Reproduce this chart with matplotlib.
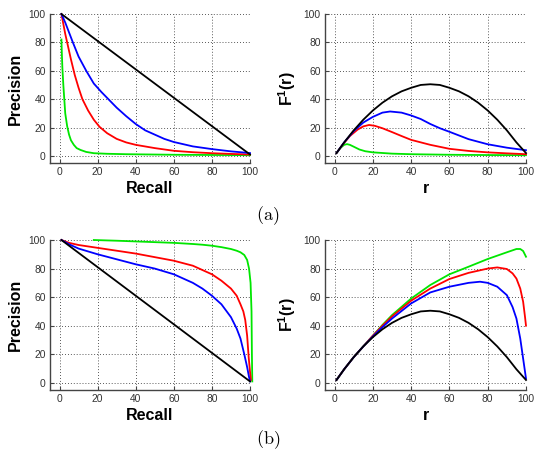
import matplotlib
matplotlib.use("Agg")
import matplotlib.pyplot as plt

# ---------------- data ----------------
# (a) top-left: precision vs recall
a_pr_black_R = [1, 100]
a_pr_black_P = [100, 1]
a_pr_blue_R = [1, 3, 5, 7, 10, 14, 18, 22, 26, 30, 35, 40, 45, 50, 55, 60, 70, 80, 90, 100]
a_pr_blue_P = [100, 94, 87, 80, 70, 60, 51, 45, 39.5, 34, 28, 22.5, 18, 15, 12, 9.8, 6.7, 4.8, 3.2, 2]
a_pr_red_R = [1, 2, 3, 4, 6, 8, 10, 12, 15, 18, 21, 25, 30, 35, 40, 50, 60, 70, 80, 90, 100]
a_pr_red_P = [100, 93, 86, 80, 68, 57, 48, 40, 32, 25.5, 20.5, 16, 12, 9.5, 7.8, 5.5, 3.6, 2.6, 1.9, 1.4, 1]
a_pr_green_R = [1, 1.2, 1.5, 2, 2.5, 3, 4, 5, 6, 7.5, 9, 11, 14, 18, 25, 35, 60, 100]
a_pr_green_P = [82, 73, 62, 50, 40, 30, 21, 15, 11, 7.8, 5.5, 4.2, 2.8, 1.9, 1.5, 1.2, 0.8, 0.5]

# (a) top-right: F1 vs r
a_f_black_r = [1, 5, 10, 15, 20, 25, 30, 35, 40, 45, 50, 55, 60, 65, 70, 75, 80, 85, 90, 95, 100]
a_f_black_F = [2, 9.5, 18, 25.5, 32, 37.5, 42, 45.5, 48, 50, 50.5, 50, 48, 45.5, 42, 37.5, 32, 25.5, 18, 9.5, 2]
a_f_blue_r = [1, 5, 10, 15, 20, 25, 29, 35, 40, 45, 50, 55, 60, 70, 80, 90, 100]
a_f_blue_F = [2, 9.5, 17.5, 23.5, 27.5, 30.5, 31.3, 30.5, 28.5, 26, 22.5, 19.5, 17, 11.8, 8.2, 5.8, 4]
a_f_red_r = [1, 4, 8, 12, 15, 18, 21, 25, 30, 35, 40, 50, 60, 70, 80, 90, 100]
a_f_red_F = [2, 7.5, 14, 18.5, 20.8, 21.8, 21.2, 19.5, 16.8, 14, 11.3, 7.8, 5, 3.5, 2.5, 1.8, 1.2]
a_f_green_r = [1, 3, 5, 6.5, 8, 10, 13, 16, 20, 30, 40, 60, 80, 100]
a_f_green_F = [2, 5.5, 7.8, 8.3, 7.8, 6.5, 4.5, 3.3, 2.5, 1.6, 1.2, 0.8, 0.6, 0.5]

# (b) bottom-left: precision vs recall
b_pr_black_R = [1, 100]
b_pr_black_P = [100, 1]
b_pr_blue_R = [1, 5, 10, 20, 30, 40, 50, 60, 70, 75, 80, 85, 90, 93, 95, 97, 98.5, 99.5, 100]
b_pr_blue_P = [100, 97, 94, 90, 86.5, 83, 80, 76, 70, 66, 61, 55, 46, 38, 31, 20, 11, 4, 1]
b_pr_red_R = [1, 5, 10, 20, 30, 40, 50, 60, 70, 80, 85, 90, 93, 95, 96.5, 97.5, 98.5, 99.3, 100, 100.5]
b_pr_red_P = [100, 98, 96.5, 94.5, 92.5, 90.5, 88, 85.5, 82, 76, 71.5, 66, 61, 55, 50, 44, 33, 18, 8, 2]
b_pr_green_R = [18, 25, 30, 40, 50, 60, 70, 75, 80, 85, 90, 93, 95, 97, 98.5, 99.5, 100.3, 100.8, 101, 101.2]
b_pr_green_P = [100, 99.7, 99.5, 99, 98.5, 98, 97.2, 96.7, 96, 95, 93.7, 92.5, 91.4, 89.5, 86, 80, 70, 50, 20, 1]

# (b) bottom-right: F1 vs r
b_f_black_r = a_f_black_r
b_f_black_F = a_f_black_F
b_f_blue_r = [1, 5, 10, 15, 20, 25, 30, 40, 50, 60, 70, 76, 80, 85, 90, 93, 95, 97, 98.5, 100]
b_f_blue_F = [2, 9.5, 18, 25.5, 32.5, 39, 45, 55.6, 63.3, 67.3, 70, 70.8, 70, 67.3, 61.4, 53, 45, 31, 17, 3]
b_f_red_r = [1, 5, 10, 15, 20, 25, 30, 40, 50, 60, 70, 80, 85, 90, 93, 95, 97, 98.5, 99.5, 100]
b_f_red_F = [2, 9.5, 18, 25.5, 33, 40, 46.5, 57.5, 66, 72.7, 77, 80, 80.8, 79.7, 76.6, 73, 66, 56.8, 46, 40]
b_f_green_r = [1, 5, 10, 15, 20, 25, 30, 40, 50, 60, 70, 80, 90, 95, 97, 98.5, 100]
b_f_green_F = [2, 9.5, 18, 25.5, 33, 40.5, 47.4, 59, 68.5, 76, 81.3, 86.7, 91.4, 93.7, 93.7, 92.3, 88.3]

ticks = [0, 20, 40, 60, 80, 100]

# ---------------- figure ----------------
plt.rcParams['font.family'] = ['Liberation Sans', 'DejaVu Sans']
plt.rcParams['mathtext.default'] = 'regular'

fig = plt.figure(figsize=(5.36, 4.57), dpi=100)

W, H = 536.0, 457.0
def ax_at(x0, y0, x1, y1):
    return fig.add_axes([x0 / W, 1 - y1 / H, (x1 - x0) / W, (y1 - y0) / H])

ax_tl = ax_at(50, 14, 250, 163)
ax_tr = ax_at(325, 14, 526, 163)
ax_bl = ax_at(50, 240, 250, 390)
ax_br = ax_at(325, 240, 526, 390)

GREEN = '#00e600'
LW = 1.3

def style(ax, xlabel, ylabel):
    ax.set_xlim(-5, 100)
    ax.set_ylim(-5, 100)
    ax.set_xticks(ticks)
    ax.set_yticks(ticks)
    for s in ['top', 'right']:
        ax.spines[s].set_visible(False)
    for s in ['left', 'bottom']:
        ax.spines[s].set_color('#444444')
        ax.spines[s].set_linewidth(1.0)
    ax.tick_params(direction='in', length=3, width=0.8, colors='#444444',
                   labelsize=7.4, labelcolor='#333333', pad=3)
    ax.grid(True, color='#222222', linestyle=(0, (1, 2.5)), linewidth=0.6)
    ax.set_axisbelow(True)
    ax.set_xlabel(xlabel, fontsize=11.5, fontweight='bold', labelpad=3)
    ax.set_ylabel(ylabel, fontsize=11.5, fontweight='bold', labelpad=4)

def curves(ax, g, r, b, k):
    ax.plot(g[0], g[1], color=GREEN, lw=LW, clip_on=False)
    ax.plot(r[0], r[1], color='#ff0000', lw=LW, clip_on=False)
    ax.plot(b[0], b[1], color='#0000ff', lw=LW, clip_on=False)
    ax.plot(k[0], k[1], color='k', lw=LW, clip_on=False)

curves(ax_tl, (a_pr_green_R, a_pr_green_P), (a_pr_red_R, a_pr_red_P),
       (a_pr_blue_R, a_pr_blue_P), (a_pr_black_R, a_pr_black_P))
curves(ax_tr, (a_f_green_r, a_f_green_F), (a_f_red_r, a_f_red_F),
       (a_f_blue_r, a_f_blue_F), (a_f_black_r, a_f_black_F))
curves(ax_bl, (b_pr_green_R, b_pr_green_P), (b_pr_red_R, b_pr_red_P),
       (b_pr_blue_R, b_pr_blue_P), (b_pr_black_R, b_pr_black_P))
curves(ax_br, (b_f_green_r, b_f_green_F), (b_f_red_r, b_f_red_F),
       (b_f_blue_r, b_f_blue_F), (b_f_black_r, b_f_black_F))

style(ax_tl, 'Recall', 'Precision')
style(ax_tr, 'r', 'F$^1$(r)')
style(ax_bl, 'Recall', 'Precision')
style(ax_br, 'r', 'F$^1$(r)')

fig.text(268 / W, 1 - 216 / H, r'$\mathrm{(a)}$', ha='center', va='center',
         fontsize=13, math_fontfamily='cm')
fig.text(268 / W, 1 - 440 / H, r'$\mathrm{(b)}$', ha='center', va='center',
         fontsize=13, math_fontfamily='cm')

fig.savefig('out.png', dpi=100)
